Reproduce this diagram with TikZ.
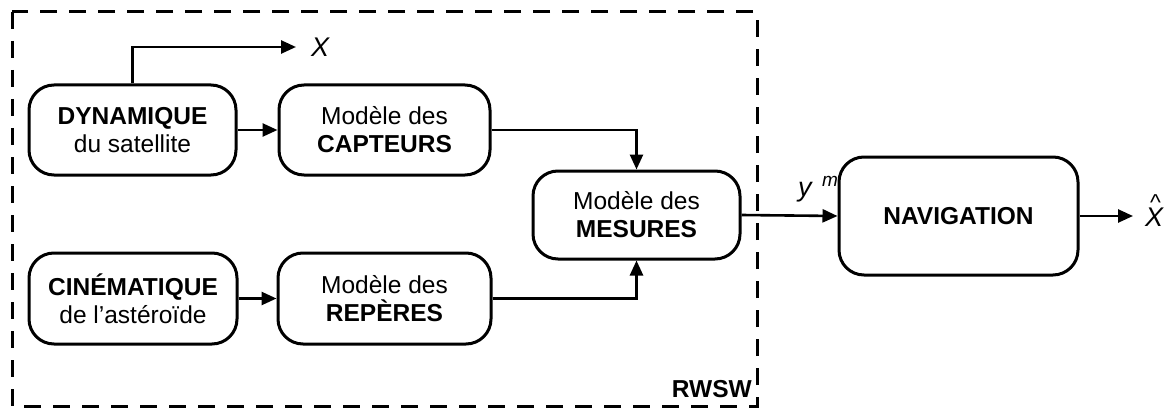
\documentclass[tikz,border=0pt]{standalone}
\usepackage{fontspec}
\setmainfont{Liberation Sans}
\usetikzlibrary{arrows.meta}
\begin{document}
\begin{tikzpicture}[x=1pt,y=-1pt,
  font=\fontsize{24.5}{28}\selectfont,
  blk/.style={draw, line width=3pt, rounded corners=25pt, align=center, inner sep=0pt, fill=white},
  conn/.style={line width=2.6pt, -{Triangle[length=15pt,width=13pt]}},
  frame/.style={line width=3pt, dash pattern=on 17pt off 12pt}]
\useasboundingbox (0,0) rectangle (1172,409);
\draw[frame] (12,12) rectangle (757,406);
\node[blk, minimum width=207pt, minimum height=90pt] (dyn) at (132.5,130) {\textbf{DYNAMIQUE}\\du satellite};
\node[blk, minimum width=211pt, minimum height=90pt] (capt) at (384.5,130) {Modèle des\\\textbf{CAPTEURS}};
\node[blk, minimum width=207pt, minimum height=88pt] (mes) at (636.5,215) {Modèle des\\\textbf{MESURES}};
\node[blk, minimum width=208pt, minimum height=91pt] (cin) at (133,298.5) {\textbf{CINÉMATIQUE}\\de l’astéroïde};
\node[blk, minimum width=213pt, minimum height=91pt] (rep) at (384.5,298.5) {Modèle des\\\textbf{REPÈRES}};
\node[blk, minimum width=239pt, minimum height=118pt] (nav) at (958.5,216) {\textbf{NAVIGATION}};
\coordinate (xend) at (296,47);
\node[anchor=west, inner sep=0pt, font=\fontsize{27}{30}\selectfont] (xlab) at (311,47) {\textit{X}};
\draw[conn] (dyn.north) |- (xend);
\draw[conn] (dyn.east) -- (capt.west);
\draw[conn] (capt.east) -| (mes.north);
\draw[conn] (cin.east) -- (rep.west);
\draw[conn] (rep.east) -| (mes.south);
\draw[conn] (mes.east) -- (nav.west);
\node[anchor=base west, inner sep=0pt, font=\fontsize{27}{30}\selectfont] (ym) at (798,196) {\textit{y}};
\node[anchor=base west, inner sep=0pt, font=\fontsize{19}{22}\selectfont] (ymsup) at (822,186) {\textit{m}};
\coordinate (xhend) at (1133,216);
\draw[conn] (nav.east) -- (xhend);
\node[anchor=south west, inner sep=0pt, font=\fontsize{27}{30}\selectfont] (xhat) at (1145,227)
  {\vbox{\offinterlineskip\halign{\hfil#\hfil\cr
   \fontsize{23}{23}\selectfont\kern2pt\textasciicircum\cr
   \noalign{\kern-2pt}
   \textit{X}\cr}}};
\node[anchor=base east, inner sep=0pt] (rwsw) at (752,397) {\textbf{RWSW}};
\end{tikzpicture}
\end{document}
